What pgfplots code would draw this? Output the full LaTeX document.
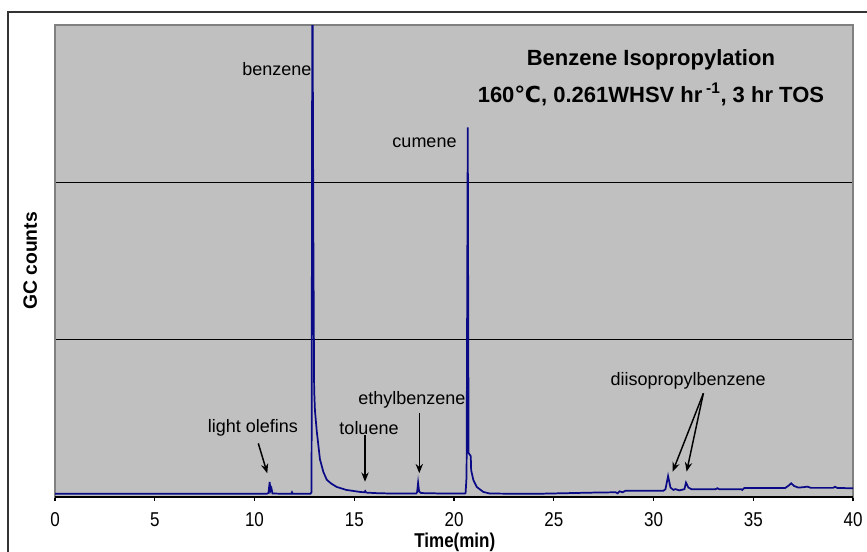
\documentclass[border=0pt]{standalone}
\usepackage{fontspec}
\setmainfont{Liberation Sans}
\newfontfamily\dejavu{DejaVu Sans}
\newfontfamily\narrowsans[FakeStretch=0.85]{Liberation Sans}
\usepackage{pgfplots}
\pgfplotsset{compat=1.18}
\usetikzlibrary{arrows.meta}
\definecolor{plotbg}{RGB}{192,192,192}
\definecolor{plotborder}{RGB}{128,128,128}
\definecolor{trace}{RGB}{10,10,135}
\begin{document}
\begin{tikzpicture}
\useasboundingbox (0,0) rectangle (650.25pt,-414pt);
\draw[line width=1.4pt, black!80] (6pt,-420pt) -- (6pt,-9pt) -- (660pt,-9pt);
\begin{axis}[
  at={(41.25pt,-372.75pt)}, anchor=south west,
  scale only axis, width=598.5pt, height=354pt,
  xmin=0, xmax=40, ymin=0, ymax=3,
  clip mode=individual,
  axis background/.style={fill=plotbg},
  axis line style={draw=plotborder, line width=1.5pt},
  xtick={0,5,...,40}, xtick pos=lower, tick align=outside,
  major tick length=3pt,
  x tick style={black, line width=0.8pt},
  ytick={1,2}, yticklabels={}, y tick style={draw=none},
  ymajorgrids, major grid style={black, line width=0.6pt},
  /pgf/number format/assume math mode=true,
  xticklabel style={font=\narrowsans\fontsize{15}{17}\selectfont, yshift=-5pt},
  xlabel={Time(min)},
  xlabel style={font=\narrowsans\fontsize{15}{16}\selectfont\bfseries, at={(axis description cs:0.501,-0.095)}, anchor=center},
  ylabel={GC counts},
  ylabel style={font=\fontsize{14.5}{16}\selectfont\bfseries, at={(axis description cs:-0.031,0.5)}, anchor=center},
]
\addplot[trace, line width=1.3pt, mark=none] coordinates {
(0,0.02)(10.6,0.02)(10.7,0.025)(10.76,0.095)(10.8,0.04)(10.85,0.055)(10.9,0.022)
(11.85,0.02)(11.88,0.03)(11.92,0.02)(12.8,0.02)(12.86,0.03)(12.9,3.6)(12.95,1.65)
(12.99,0.68)(13.03,0.55)(13.12,0.42)(13.28,0.24)(13.45,0.16)(13.62,0.11)(13.85,0.085)
(14.12,0.064)(14.6,0.045)(15.3,0.032)(15.5,0.03)(15.55,0.038)(15.6,0.028)(16.2,0.024)
(17,0.022)(18.1,0.022)(18.15,0.03)(18.2,0.09)(18.25,0.035)(18.35,0.025)(19.5,0.022)
(20.55,0.022)(20.58,0.025)(20.63,0.13)(20.69,2.35)(20.73,0.28)(20.84,0.26)(20.86,0.17)
(20.97,0.108)(21.14,0.064)(21.47,0.032)(21.8,0.022)(24,0.02)(27,0.028)(28.1,0.03)
(28.2,0.024)(28.3,0.036)(28.45,0.03)(28.6,0.04)(30.5,0.04)(30.6,0.05)(30.73,0.133)
(30.85,0.06)(31.0,0.045)(31.1,0.05)(31.3,0.042)(31.55,0.05)(31.63,0.091)(31.75,0.06)
(31.9,0.05)(32.3,0.049)(33.1,0.049)(33.2,0.056)(33.3,0.049)(34.4,0.049)(34.45,0.045)
(34.55,0.057)(36.6,0.057)(36.8,0.075)(36.9,0.087)(37.05,0.07)(37.25,0.06)(37.5,0.062)
(37.7,0.066)(37.9,0.058)(39.0,0.058)(39.1,0.065)(39.2,0.058)(40,0.055)
};
\draw[black, line width=1pt] (rel axis cs:0,0) -- (rel axis cs:1,0);
% annotations
\begin{scope}[every node/.style={font=\fontsize{13.5}{16}\selectfont, inner sep=0pt}]
\node[anchor=east] at (axis cs:12.87,2.72) {benzene};
\node[anchor=east] at (axis cs:20.14,2.25) {cumene};
\node at (axis cs:9.92,0.439) {light olefins};
\node at (axis cs:15.74,0.439) {toluene};
\node at (axis cs:17.89,0.617) {ethylbenzene};
\node[anchor=east] at (axis cs:35.64,0.737) {diisopropylbenzene};
\end{scope}
\begin{scope}[-{Stealth[length=7pt,width=5.5pt]}, line width=1.1pt, black]
\draw (axis cs:10.19,0.341) -- (axis cs:10.64,0.151);
\draw (axis cs:15.54,0.394) -- (axis cs:15.54,0.097);
\draw (axis cs:18.26,0.532) -- (axis cs:18.26,0.151);
\draw (axis cs:32.50,0.659) -- (axis cs:30.96,0.161);
\draw (axis cs:32.50,0.659) -- (axis cs:31.66,0.161);
\end{scope}
\node[font=\fontsize{16.5}{20}\selectfont\bfseries] at (axis cs:29.87,2.78) {Benzene Isopropylation};
\node[font=\fontsize{16.5}{20}\selectfont\bfseries] at (axis cs:29.87,2.56) {160{\dejavu ℃}, 0.261WHSV hr\,\textsuperscript{-1}, 3 hr TOS};
\end{axis}
\end{tikzpicture}
\end{document}
